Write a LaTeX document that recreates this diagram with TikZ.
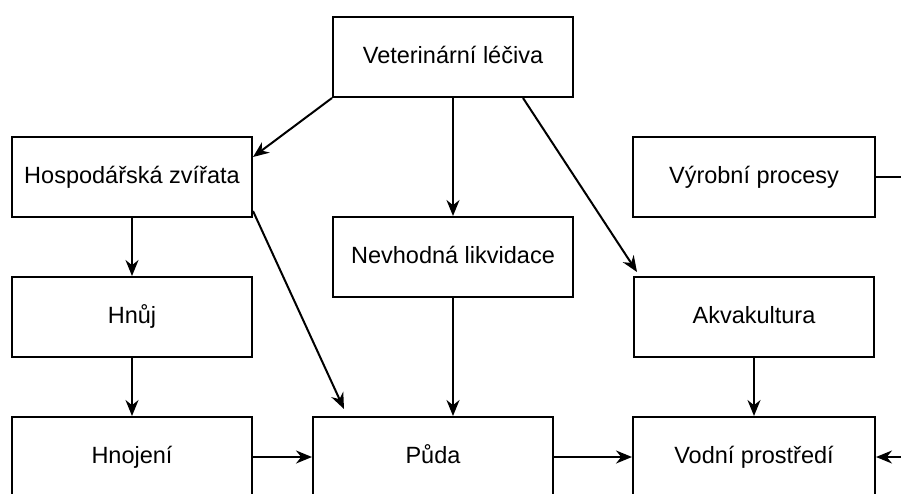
\documentclass[tikz,border=0pt]{standalone}
\usepackage{fontspec}
\setmainfont{Liberation Sans}
\usetikzlibrary{arrows.meta}
\begin{document}
\begin{tikzpicture}[x=1pt,y=-1pt,
    box/.style={draw, line width=2pt, minimum width=240pt, minimum height=80pt,
      inner sep=0pt, text height=17pt, text depth=5pt,
      font=\fontsize{23.5}{28}\selectfont},
    flow/.style={line width=2pt, -{Stealth[length=16pt,width=13pt]}}]
  \path[use as bounding box, clip] (0,0) rectangle (901,493);
  \path
    (453,57) node[box] (vet){Veterinární léčiva}
    (132,177) node[box] (hosp){Hospodářská zvířata}
    (754,177) node[box, minimum width=242pt] (vyr){Výrobní procesy}
    (453,257) node[box] (nevh){Nevhodná likvidace}
    (132,317) node[box] (hnuj){Hnůj}
    (754,317) node[box] (akva){Akvakultura}
    (132,457) node[box] (hnoj){Hnojení}
    (433,457) node[box] (puda){Půda}
    (754,457) node[box, minimum width=242pt] (vodni){Vodní prostředí};
  \coordinate (vyrout) at (910,177);
  \coordinate (vodin) at (910,457);
  \begin{scope}[flow]
    \draw (vet.south west) to ([yshift=20pt]hosp.east);
    \draw (vet) to (nevh);
    \draw ([xshift=70pt]vet.south) to ([xshift=4pt,yshift=4pt]akva.north west);
    \draw ([yshift=7pt]hosp.south east) to ([xshift=32pt,yshift=7pt]puda.north west);
    \draw (hosp) to (hnuj);
    \draw (hnuj) to (hnoj);
    \draw (nevh.south) to (nevh.south |- puda.north);
    \draw (akva) to (vodni);
    \draw (hnoj) to (puda);
    \draw (puda) to (vodni);
    \draw (vodin) to (vodni.east);
  \end{scope}
  \draw[line width=2pt] (vyr.east) -- (vyrout);
\end{tikzpicture}
\end{document}
